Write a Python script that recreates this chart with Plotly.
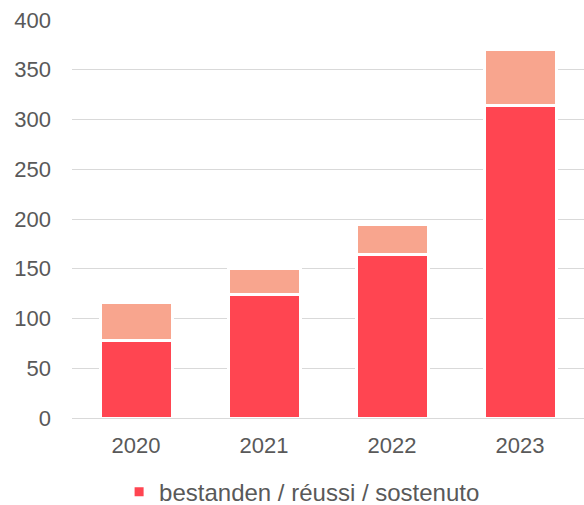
import plotly.graph_objects as go

years = ["2020", "2021", "2022", "2023"]
passed = [78, 124, 164, 314]
other = [38, 26, 30, 56]
legend_label = "bestanden / réussi / sostenuto"
y_ticks = [0, 50, 100, 150, 200, 250, 300, 350, 400]

RED = "#FF4551"
SALMON = "#F8A58E"
TEXT = "#595959"
FONT = "Liberation Sans, Arial, sans-serif"

fig = go.Figure()
fig.add_trace(go.Bar(
    x=years, y=passed, name=legend_label,
    marker=dict(color=RED, line=dict(color="white", width=3)),
    showlegend=True,
))
fig.add_trace(go.Bar(
    x=years, y=other, name="other",
    marker=dict(color=SALMON, line=dict(color="white", width=3)),
    showlegend=False,
))

fig.update_layout(
    barmode="stack",
    bargap=0.4375,
    width=584, height=505,
    margin=dict(l=72, r=0, t=20, b=87, autoexpand=False),
    paper_bgcolor="white", plot_bgcolor="white",
    font=dict(family=FONT, size=22, color=TEXT),
    legend=dict(orientation="h", x=0.092, xanchor="left", y=-0.186, yanchor="middle",
                font=dict(size=24, color=TEXT)),
    xaxis=dict(showgrid=False, showline=False, ticks="", ticklabelstandoff=12,
               automargin=False, tickfont=dict(size=22, color=TEXT)),
    yaxis=dict(range=[0, 400], tickvals=y_ticks, showgrid=True, gridcolor="#D9D9D9", gridwidth=1,
               zeroline=True, zerolinecolor="#D9D9D9", zerolinewidth=1, automargin=False,
               ticks="", ticklabelstandoff=20, tickfont=dict(size=22, color=TEXT)),
)

fig.write_html("out.html")
